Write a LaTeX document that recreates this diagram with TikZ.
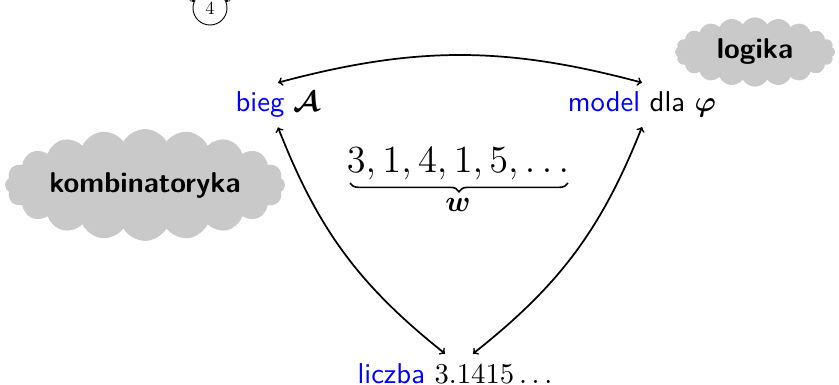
\documentclass[tikz,border=0pt]{standalone}
\usepackage{amsmath}
\usetikzlibrary{shapes.symbols,calc,decorations.pathreplacing}
\begin{document}
\begin{tikzpicture}[x=0.75pt,y=0.75pt,
  lbl/.style={font=\sffamily, scale=2.15, transform shape, outer sep=2.3pt, inner sep=1pt},
  cloudy/.style={cloud, cloud puffs=20, cloud puff arc=120, cloud ignores aspect, fill=black!21, draw=none,
     inner sep=0pt, font=\sffamily\bfseries, scale=2.15, transform shape},
  conn/.style={<->, line width=1.3pt, >=to},
  statec/.style={circle, draw, line width=0.7pt, minimum size=25.5pt, inner sep=0pt, font=\fontsize{14}{16}\selectfont},
  bracec/.style={decorate, decoration={brace, mirror, amplitude=6.5pt}, line width=1.2pt}
]
\useasboundingbox (0,0) rectangle (839,-385);
% clouds
\node[cloudy, minimum width=97.7pt, minimum height=39pt] (komb) at (145,-185) {kombinatoryka};
\node[cloudy, minimum width=55.8pt, minimum height=24.2pt] (log) at (755,-52) {logika};
% cut-off state at the top
\node[statec] (four) at (210,-8) {4};
\coordinate (inl) at (186,12);
\coordinate (inr) at (234,12);
\draw[->, >=to, line width=0.7pt] (inl) -- (four.160);
\draw[->, >=to, line width=0.7pt] (inr) -- (four.20);
% labels
\node[lbl, anchor=base] (bieg) at (278,-112) {\textcolor{blue}{bieg} $\boldsymbol{\mathcal{A}}$};
\node[lbl, anchor=base] (model) at (642,-112) {\textcolor{blue}{model} dla $\boldsymbol{\varphi}$};
\node[lbl, anchor=base] (liczba) at (455,-383) {\textcolor{blue}{liczba} $3.1415\ldots$};
% sequence with brace
\node[scale=2, transform shape, font=\Large, anchor=base] (seq) at (458,-172) {$3,1,4,1,5,\ldots$};
\coordinate (bl) at (350,-183);
\coordinate (br) at (568,-183);
\draw[bracec] (bl) -- (br);
\node[scale=2.2, transform shape, anchor=base] (wlab) at (458,-211) {$\boldsymbol{w}$};
% connectors
\draw[conn] (bieg.north) to[bend left=15] (model.north);
\draw[conn] (bieg.south) to[bend right=15] ($(liczba.north)+(-10,0)$);
\draw[conn] (model.south) to[bend left=15] ($(liczba.north)+(18,0)$);
\end{tikzpicture}
\end{document}
